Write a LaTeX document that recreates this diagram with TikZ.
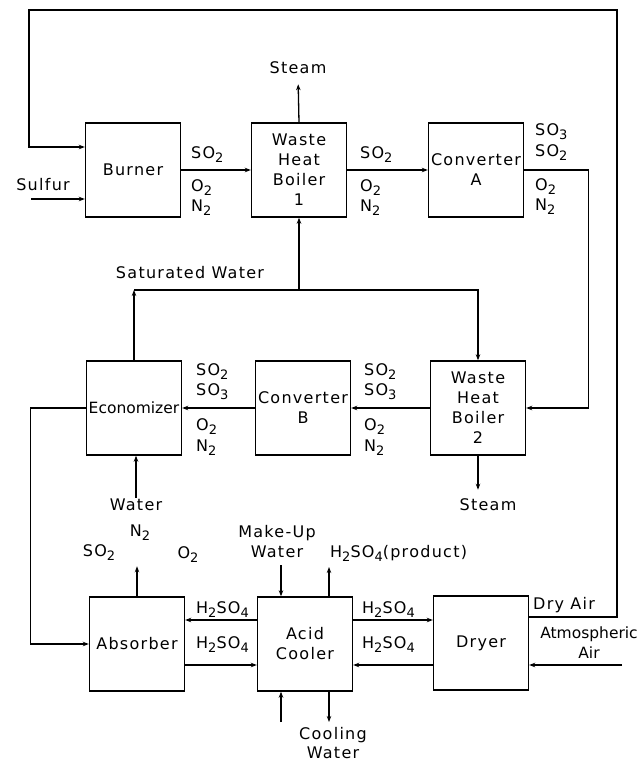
\documentclass[tikz,border=0pt]{standalone}
\usepackage{fontspec}
\setmainfont[LetterSpace=8]{DejaVu Sans}
\usetikzlibrary{arrows.meta}
\newcommand{\dn}[1]{\raisebox{-0.45ex}{\fontsize{13}{14}\selectfont #1}}

\begin{document}
\begin{tikzpicture}[x=1pt, y=-1pt,
    font=\fontsize{16}{20}\selectfont,
    unit/.style={rectangle, draw, line width=1.4pt, minimum width=95pt, minimum height=94pt, align=center, inner sep=0pt},
    flow/.style={line width=1.3pt, -{Stealth[length=6pt, width=4.5pt]}},
    gas/.style={anchor=west, inner sep=0pt},
    tag/.style={align=center, inner sep=1pt},
    tight/.style={font=\fontsize{15.5}{20}\selectfont\addfontfeature{LetterSpace=0}}
]
\useasboundingbox (0,0) rectangle (644,764);

% process units
\node[unit] (burner) at (133,170) {Burner};
\node[unit] (whbA) at (299,170) {Waste\\Heat\\Boiler\\1};
\node[unit] (convA) at (476,170) {Converter\\A};
\node[unit, tight] (econ) at (134,408) {Economizer};
\node[unit] (convB) at (303,408) {Converter\\B};
\node[unit] (whbB) at (478,408) {Waste\\Heat\\Boiler\\2};
\node[unit] (absorber) at (137,644) {Absorber};
\node[unit] (cooler) at (305,644) {Acid\\Cooler};
\node[unit] (dryer) at (481,643) {Dryer};

% stream names
\node[tag] (steamA) at (298,68) {Steam};
\node[tag] (sulfur) at (43,185) {Sulfur};
\node[tag] (satw) at (190,273) {Saturated Water};
\node[tag] (water) at (136,505) {Water};
\node[tag] (steamB) at (488,505) {Steam};
\node[tag] (makeup) at (277,542) {Make-Up\\Water};
\node[gas] (product) at (330,553) {H\dn{2}SO\dn{4}(product)};
\node[tag, font=\fontsize{16}{19}\selectfont] (cooling) at (333,743) {Cooling\\Water};
\node[gas] (dryair) at (533,605) {Dry Air};
\node[tag, tight] (atmair) at (589,643) {Atmospheric\\Air};

% gas compositions
\node[gas] (bwSO2) at (191,155) {SO\dn{2}};
\node[gas] (bwO2) at (191,188) {O\dn{2}};
\node[gas] (bwN2) at (191,208) {N\dn{2}};
\node[gas] (waSO2) at (360,155) {SO\dn{2}};
\node[gas] (waO2) at (360,188) {O\dn{2}};
\node[gas] (waN2) at (360,208) {N\dn{2}};
\node[gas] (axSO3) at (535,132) {SO\dn{3}};
\node[gas] (axSO2) at (535,153) {SO\dn{2}};
\node[gas] (axO2) at (535,187) {O\dn{2}};
\node[gas] (axN2) at (535,207) {N\dn{2}};
\node[gas] (bbSO2) at (364,372) {SO\dn{2}};
\node[gas] (bbSO3) at (364,392) {SO\dn{3}};
\node[gas] (bbO2) at (364,427) {O\dn{2}};
\node[gas] (bbN2) at (364,448) {N\dn{2}};
\node[gas] (beSO2) at (196,372) {SO\dn{2}};
\node[gas] (beSO3) at (196,392) {SO\dn{3}};
\node[gas] (beO2) at (196,427) {O\dn{2}};
\node[gas] (beN2) at (196,448) {N\dn{2}};
\node[tag] (ventSO2) at (99,553) {SO\dn{2}};
\node[tag] (ventN2) at (140,533) {N\dn{2}};
\node[tag] (ventO2) at (188,555) {O\dn{2}};
\node[gas] (acUp) at (196,610) {H\dn{2}SO\dn{4}};
\node[gas] (acDn) at (196,645) {H\dn{2}SO\dn{4}};
\node[gas] (adUp) at (362,610) {H\dn{2}SO\dn{4}};
\node[gas] (adDn) at (362,645) {H\dn{2}SO\dn{4}};

% free ends
\coordinate (sulfin) at (31,199);
\coordinate (loopR) at (617,10);
\coordinate (loopL) at (29,10);
\coordinate (satL) at (134,290);
\coordinate (mwin) at (281,565);
\coordinate (prodout) at (329,567);
\coordinate (cwin) at (281,722);
\coordinate (cwout) at (329,722);
\coordinate (atmin) at (622,665);

% top train
\draw[flow] (sulfin) -- (sulfin -| burner.west);
\draw[flow] (burner.east) -- (whbA.west);
\draw[flow] (whbA.east) -- (convA.west);
\draw[flow, shorten >=9pt] (whbA.north) -- (steamA.south);
\draw[flow] (convA.east) -- ++(64,0) |- (whbB.east);

% middle train
\draw[flow] (whbB.west) -- (convB.east);
\draw[flow] (convB.west) -- (econ.east);
\draw[flow] (econ.west) -- ++(-55,0) |- (absorber.west);
\draw[flow] (econ.north) -- (satL);
\draw[flow] (satL) -| (whbB.north);
\draw[flow] (whbA.south |- satL) -- (whbA.south);
\draw[flow] (water.north) -- (water.north |- econ.south);
\draw[flow] (whbB.south) -- ([yshift=8pt]whbB.south |- steamB.north);

% acid section
\draw[flow] (absorber.north) -- ++(0,-30);
\draw[flow] (mwin) -- (mwin |- cooler.north);
\draw[flow] (prodout |- cooler.north) -- (prodout);
\draw[flow] (cwin) -- (cwin |- cooler.south);
\draw[flow] (cwout |- cooler.south) -- (cwout);
\draw[flow] ([yshift=24pt]cooler.west) -- ([yshift=24pt]absorber.east);
\draw[flow] ([yshift=-21pt]absorber.east) -- ([yshift=-21pt]cooler.west);
\draw[flow] ([yshift=24pt]cooler.east) -- ([yshift=24pt]cooler.east -| dryer.west);
\draw[flow] ([yshift=-22pt]dryer.west) -- ([yshift=-22pt]dryer.west -| cooler.east);
\draw[flow] (atmin) -- (atmin -| dryer.east);

% dry air to burner
\draw[flow] ([yshift=26pt]dryer.east) -| (loopR) -- (loopL) |- ([yshift=23pt]burner.west);
\end{tikzpicture}
\end{document}
